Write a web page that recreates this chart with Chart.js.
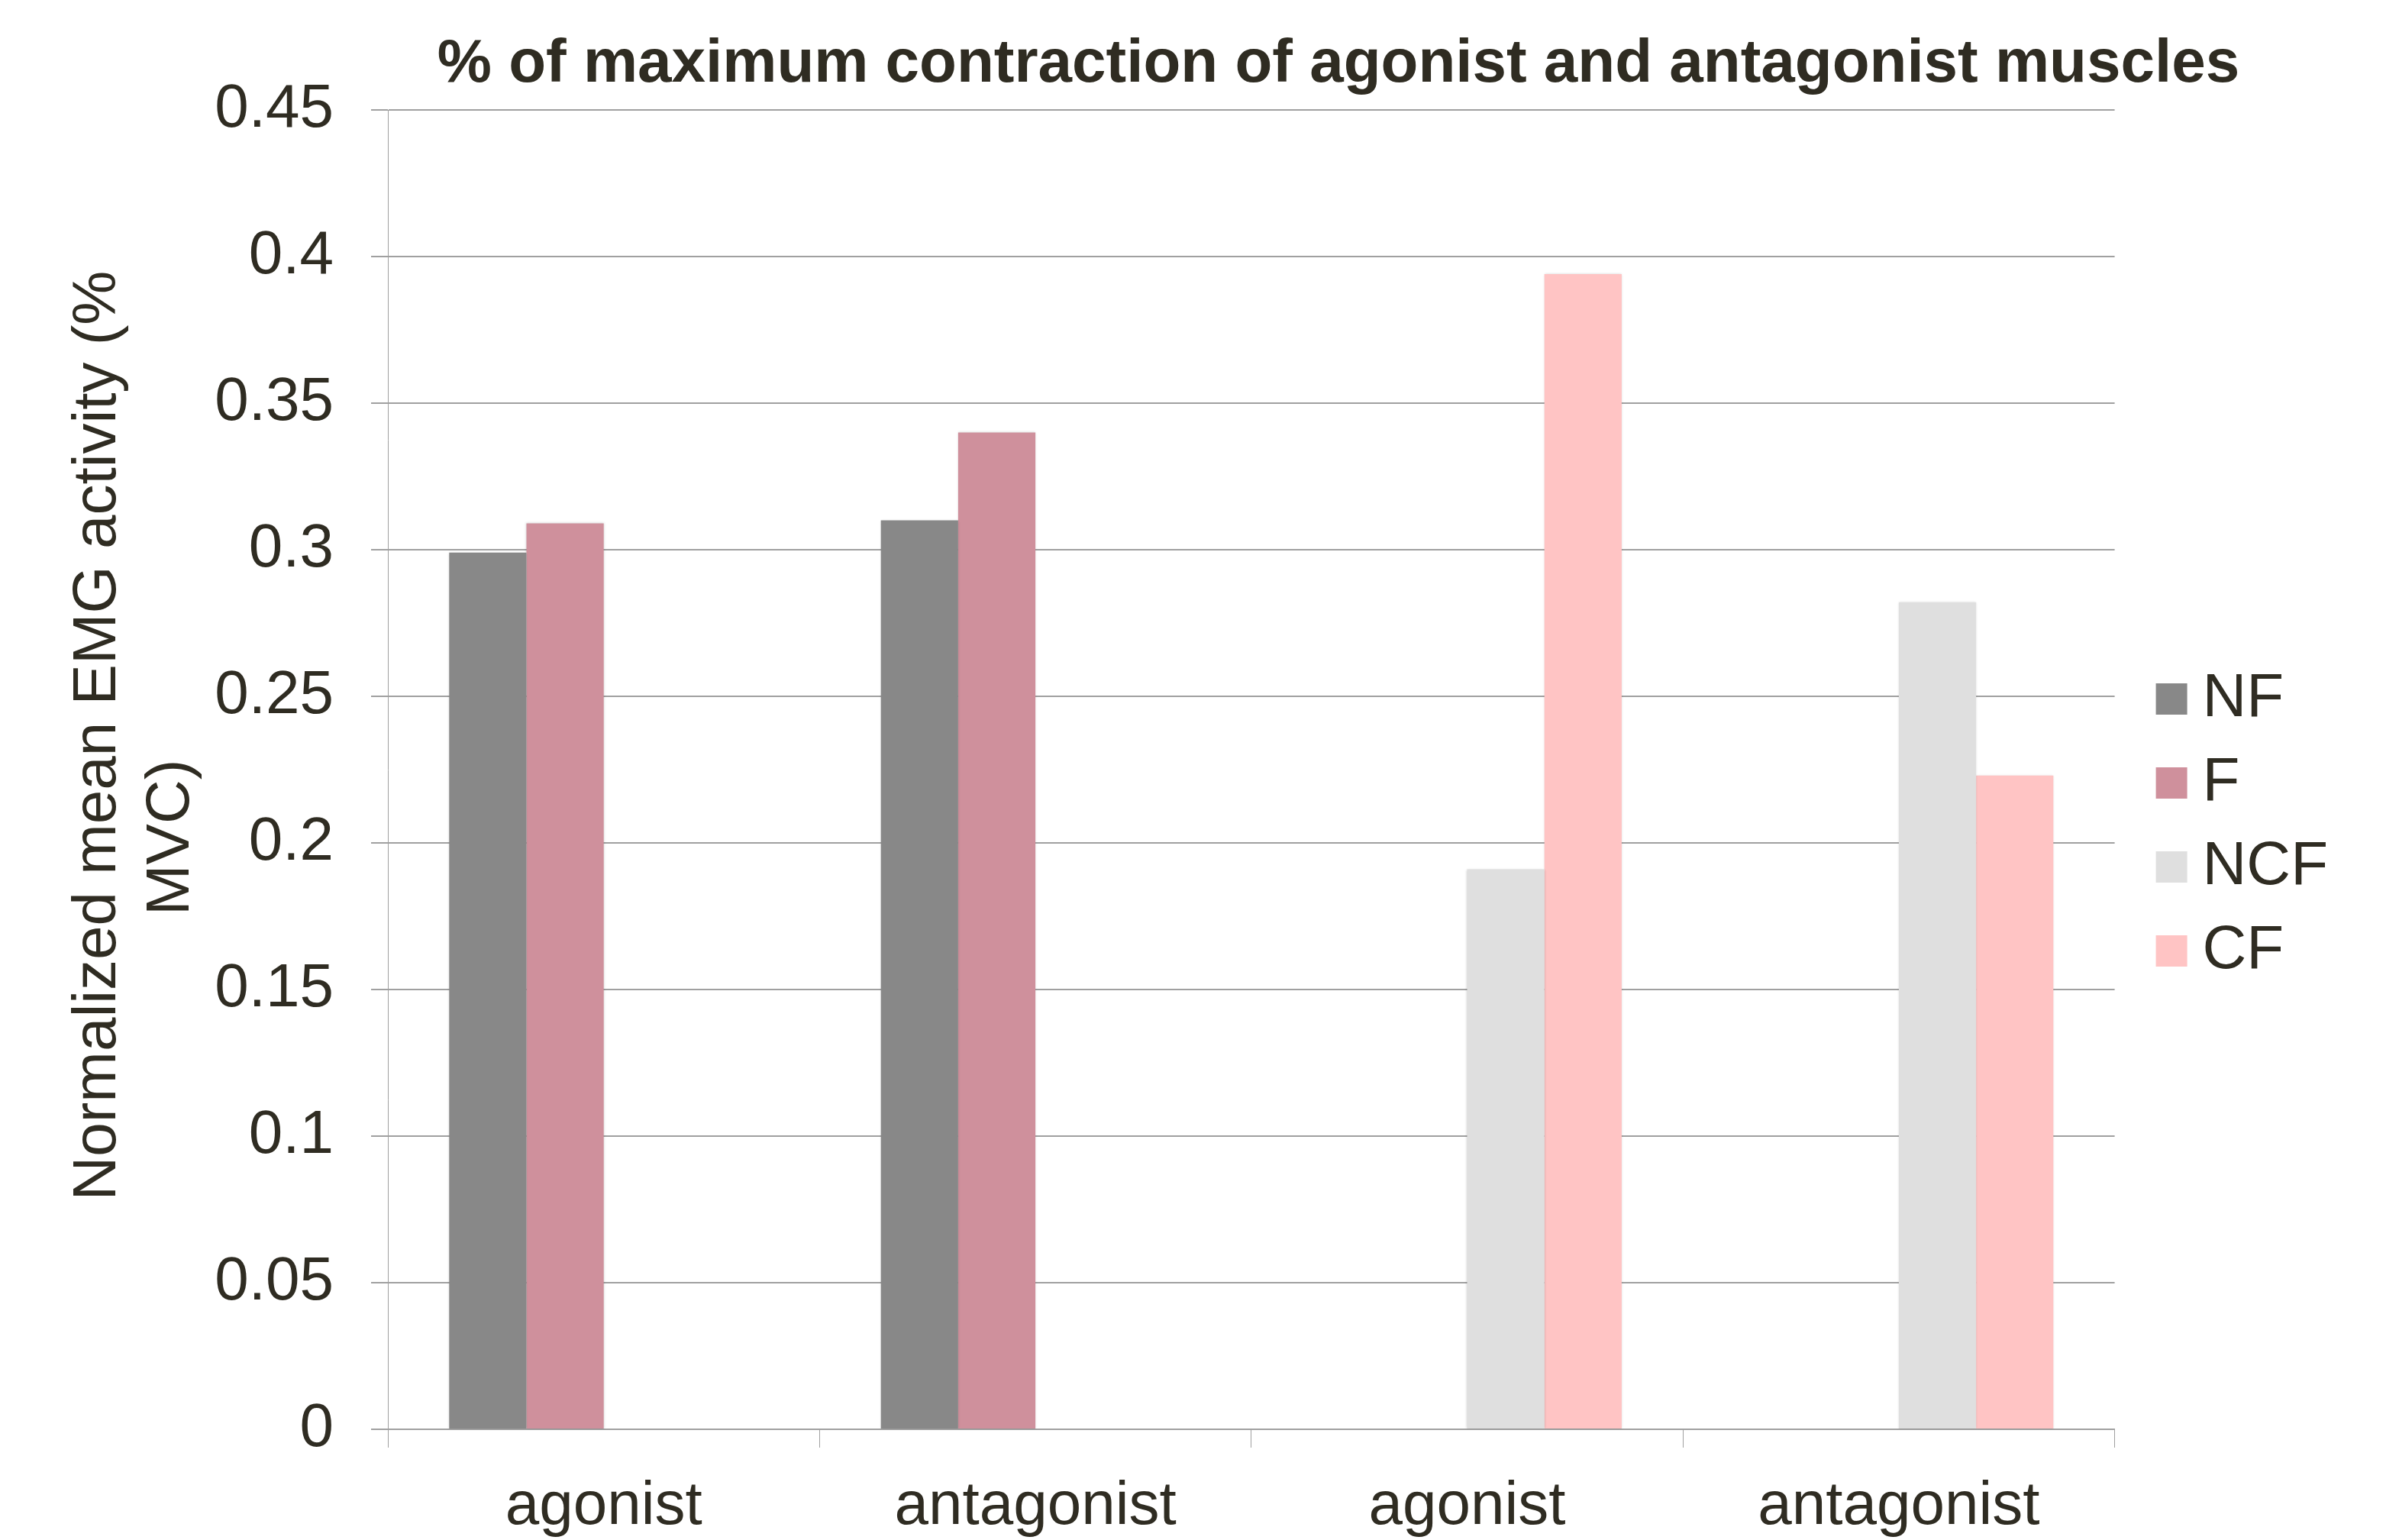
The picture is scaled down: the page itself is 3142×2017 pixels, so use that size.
<!DOCTYPE html>
<html>
<head>
<meta charset="utf-8">
<script src="https://cdn.jsdelivr.net/npm/chart.js@4.4.1/dist/chart.umd.min.js"></script>
<style>
  html, body { margin: 0; padding: 0; background: #ffffff; overflow: hidden; }
  canvas { display: block; }
</style>
</head>
<body>
<canvas id="chart" width="3142" height="2017"></canvas>
<script>
// Muscle groups along the x axis
const categories = ['agonist', 'antagonist', 'agonist', 'antagonist'];

// Normalized mean EMG activity (fraction of MVC) per condition
const seriesNames = ['NF', 'F', 'NCF', 'CF'];
const nfValues  = [0.299, 0.310, null, null];
const fValues   = [0.309, 0.340, null, null];
const ncfValues = [null, null, 0.191, 0.282];
const cfValues  = [null, null, 0.394, 0.223];
const seriesColors = ['#888888', '#CF909C', '#DFDFDF', '#FFC4C4'];

// Value axis
const yMin = 0;
const yMax = 0.45;
const yStep = 0.05;
const yTickLabels = ['0', '0.05', '0.1', '0.15', '0.2', '0.25', '0.3', '0.35', '0.4', '0.45'];

const chartTitle = '% of maximum contraction of agonist and antagonist muscles';
// Two-line axis caption; the padding spaces set each line's offset along the axis
const yAxisTitle = ['    Normalized mean EMG activity (%', 'MVC)        '];

const textColor = '#2F2C22';
const lineColor = '#A0A0A0';
const fontFamily = '"Liberation Sans", Arial, Helvetica, sans-serif';

Chart.defaults.font.family = fontFamily;
Chart.defaults.color = textColor;

// Bold headline above the plot
const headline = {
  id: 'headline',
  afterDraw(chart, args, opts) {
    const ctx = chart.ctx;
    ctx.save();
    ctx.font = 'bold ' + opts.size + 'px ' + fontFamily;
    ctx.fillStyle = opts.color;
    ctx.textAlign = 'center';
    ctx.textBaseline = 'alphabetic';
    ctx.fillText(opts.text, opts.x, opts.y);
    ctx.restore();
  }
};

// Soft edge shade around the bars
const barShade = {
  id: 'barShade',
  beforeDatasetsDraw(chart) {
    const ctx = chart.ctx;
    ctx.save();
    ctx.shadowColor = 'rgba(0,0,0,0.18)';
    ctx.shadowBlur = 3;
  },
  afterDatasetsDraw(chart) {
    chart.ctx.restore();
  }
};

const seriesValues = [nfValues, fValues, ncfValues, cfValues];

new Chart(document.getElementById('chart'), {
  type: 'bar',
  data: {
    labels: categories,
    datasets: seriesNames.map((name, i) => ({
      label: name,
      data: seriesValues[i],
      backgroundColor: seriesColors[i],
      borderWidth: 0
    }))
  },
  plugins: [headline, barShade],
  options: {
    responsive: false,
    animation: false,
    devicePixelRatio: 1,
    layout: { padding: { top: 144, right: 83, bottom: 0, left: 0 } },
    datasets: {
      bar: { categoryPercentage: 0.716, barPercentage: 1 }
    },
    plugins: {
      title: { display: false },
      tooltip: { enabled: false },
      legend: {
        position: 'right',
        align: 'center',
        labels: {
          usePointStyle: true,
          pointStyle: 'rect',
          boxWidth: 1,
          boxHeight: 41,
          padding: 30,
          color: textColor,
          font: { size: 80 }
        }
      },
      headline: { text: chartTitle, x: 1753, y: 107, size: 80, color: textColor }
    },
    scales: {
      x: {
        grid: {
          display: true,
          offset: true,
          drawOnChartArea: false,
          drawTicks: true,
          tickLength: 24,
          color: lineColor,
          lineWidth: 1
        },
        border: { display: true, color: lineColor, width: 2 },
        ticks: {
          color: textColor,
          font: { size: 80, lineHeight: 1.2 },
          padding: 30,
          maxRotation: 0,
          autoSkip: false
        },
        afterFit(scale) { scale.height = 145; }
      },
      y: {
        min: yMin,
        max: yMax,
        ticks: {
          stepSize: yStep,
          color: textColor,
          font: { size: 80, lineHeight: 1.2 },
          padding: 49,
          callback: (value, index) => yTickLabels[index]
        },
        grid: { color: lineColor, lineWidth: 2, tickLength: 22 },
        border: { display: true, color: lineColor, width: 1 },
        title: {
          display: true,
          text: yAxisTitle,
          color: textColor,
          font: { size: 80, lineHeight: 1.2 },
          padding: { top: 81, bottom: 0 }
        },
        afterFit(scale) { scale.width = 508; }
      },
      legendGap: {
        position: 'right',
        display: true,
        grid: { display: false },
        border: { display: false },
        ticks: { display: false },
        afterFit(scale) { scale.width = 44; }
      }
    }
  }
});
</script>
</body>
</html>
